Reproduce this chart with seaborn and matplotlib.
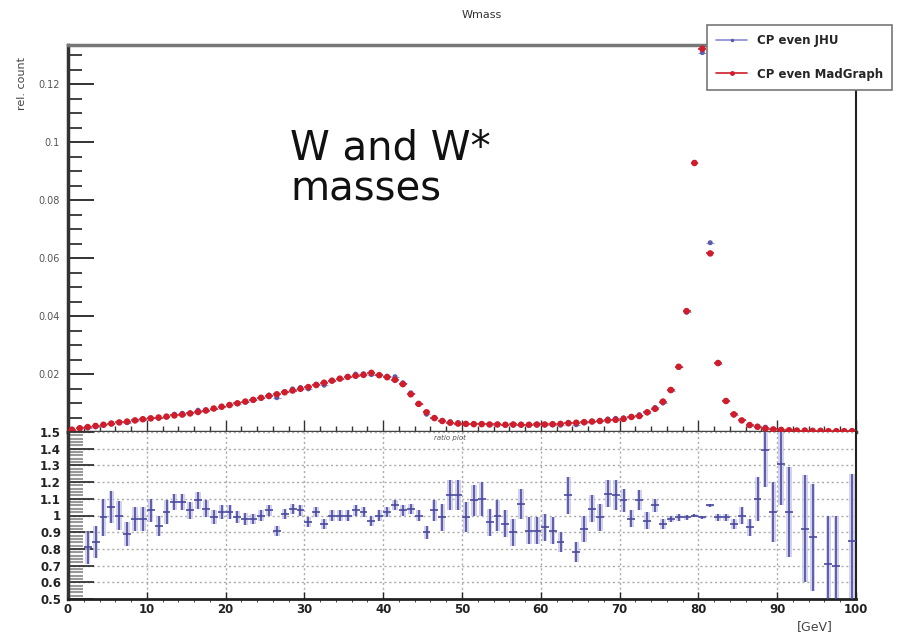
import numpy as np
import pandas as pd
import seaborn as sns
import matplotlib.pyplot as plt
from matplotlib.lines import Line2D
from matplotlib.ticker import MultipleLocator

# bin centres of the Wmass histogram, 1 GeV bins from 0 to 100
mass_bins = np.arange(100) + 0.5

# relative count, CP even MadGraph
madgraph = [
    0.0008, 0.0013, 0.0017, 0.0021, 0.0025, 0.0029, 0.0033, 0.0036, 0.0040, 0.0044,
    0.0047, 0.0050, 0.0053, 0.0057, 0.0060, 0.0064, 0.0069, 0.0074, 0.0081, 0.0087,
    0.0093, 0.0099, 0.0105, 0.0111, 0.0118, 0.0124, 0.0130, 0.0137, 0.0143, 0.0149,
    0.0155, 0.0162, 0.0170, 0.0177, 0.0184, 0.0190, 0.0194, 0.0197, 0.0204, 0.0196,
    0.0189, 0.0180, 0.0165, 0.0130, 0.0097, 0.0068, 0.0048, 0.0038, 0.0032, 0.0029,
    0.0028, 0.0027, 0.0027, 0.0026, 0.0026, 0.0025, 0.0026, 0.0025, 0.0025, 0.0026,
    0.0026, 0.0027, 0.0028, 0.0030, 0.0032, 0.0034, 0.0036, 0.0038, 0.0040, 0.0042,
    0.0045, 0.0052, 0.0055, 0.0068, 0.0080, 0.0105, 0.0145, 0.0225, 0.0417, 0.0928,
    0.1322, 0.0616, 0.0238, 0.0107, 0.0061, 0.0040, 0.0024, 0.0018, 0.0012, 0.0009,
    0.0007, 0.0006, 0.0005, 0.0005, 0.0004, 0.0004, 0.0003, 0.0003, 0.0003, 0.0003,
]

# ratio JHU / MadGraph (lower panel) and its error
nan = np.nan
ratio = [
    nan, nan, 0.81, 0.84, 0.99, 1.05, 1.00, 0.89, 0.98, 0.98,
    1.03, 0.94, 1.02, 1.08, 1.08, 1.03, 1.09, 1.04, 0.99, 1.02,
    1.02, 0.99, 0.98, 0.98, 1.00, 1.03, 0.91, 1.01, 1.04, 1.03,
    0.96, 1.02, 0.95, 1.00, 1.00, 1.00, 1.03, 1.02, 0.97, 1.00,
    1.02, 1.06, 1.03, 1.04, 1.00, 0.90, 1.03, 0.99, 1.12, 1.12,
    0.99, 1.09, 1.10, 0.96, 1.00, 0.95, 0.90, 1.07, 0.91, 0.91,
    0.93, 0.91, 0.84, 1.12, 0.78, 0.92, 1.04, 0.99, 1.13, 1.12,
    1.09, 0.98, 1.09, 0.97, 1.06, 0.95, 0.98, 0.99, 0.99, 1.00,
    0.99, 1.06, 0.99, 0.99, 0.95, 1.00, 0.93, 1.10, 1.39, 1.02,
    1.31, 1.02, nan, 0.92, 0.87, nan, 0.71, 0.70, nan, 0.85,
]
ratio_err = [
    0, 0, 0.10, 0.095, 0.11, 0.095, 0.085, 0.07, 0.07, 0.07,
    0.07, 0.06, 0.07, 0.05, 0.05, 0.05, 0.05, 0.05, 0.04, 0.04,
    0.04, 0.035, 0.035, 0.03, 0.03, 0.03, 0.03, 0.03, 0.03, 0.03,
    0.03, 0.03, 0.03, 0.03, 0.03, 0.03, 0.03, 0.03, 0.03, 0.03,
    0.03, 0.03, 0.03, 0.03, 0.035, 0.04, 0.06, 0.08, 0.09, 0.09,
    0.09, 0.09, 0.10, 0.08, 0.09, 0.08, 0.08, 0.09, 0.08, 0.08,
    0.08, 0.08, 0.06, 0.11, 0.06, 0.08, 0.08, 0.08, 0.08, 0.09,
    0.07, 0.05, 0.06, 0.05, 0.04, 0.03, 0.02, 0.02, 0.015, 0.01,
    0.01, 0.01, 0.02, 0.02, 0.03, 0.05, 0.05, 0.13, 0.22, 0.18,
    0.25, 0.27, 0, 0.32, 0.32, 0, 0.29, 0.30, 0, 0.40,
]

df = pd.DataFrame({"mass": mass_bins, "madgraph": madgraph,
                   "ratio": ratio, "err": ratio_err})
# JHU histogram follows from MadGraph times the ratio
df["jhu"] = np.where(df["ratio"].notna(), df["madgraph"] * df["ratio"], df["madgraph"])

sns.set_style("ticks")
plt.rcParams["font.family"] = ["DejaVu Sans"]

RED = "#cf1d2c"
BLUE = "#4a4a9e"
LIGHT = "#c4c4ea"

fig = plt.figure(figsize=(8.97, 6.37), dpi=100)
W, H = 897, 637
ax = fig.add_axes([68 / W, 1 - 432 / H, 788 / W, 387 / H])
ax_r = fig.add_axes([68 / W, 1 - 599 / H, 788 / W, 167 / H], sharex=ax)

# ---- upper panel: JHU underneath, MadGraph on top
ax.errorbar(df["mass"], df["jhu"], xerr=0.5, fmt="none", ecolor="#9a9ad4", lw=0.8)
sns.scatterplot(data=df, x="mass", y="jhu", color="#5c5cae", s=13, edgecolor="none",
                ax=ax, zorder=3, clip_on=False)
ax.errorbar(df["mass"], df["madgraph"], xerr=0.5, fmt="none", ecolor=RED, lw=1.1, zorder=4)
sns.scatterplot(data=df, x="mass", y="madgraph", color=RED, s=22, edgecolor="none",
                ax=ax, zorder=5, clip_on=False)
ax.set_xlim(0, 100)
ax.set_ylim(0, 0.1335)
ax.set_xlabel("")
ax.set_ylabel("")
ax.yaxis.set_minor_locator(MultipleLocator(0.005))
ax.xaxis.set_major_locator(MultipleLocator(10))
ax.xaxis.set_minor_locator(MultipleLocator(2))
ax.set_yticks([0.02, 0.04, 0.06, 0.08, 0.1, 0.12])
ax.set_yticklabels(["0.02", "0.04", "0.06", "0.08", "0.1", "0.12"])
ax.tick_params(axis="y", which="major", direction="in", length=19, width=1.3,
               color="#222", labelsize=7, labelcolor="#555", pad=6)
ax.tick_params(axis="y", which="minor", direction="in", length=10, width=1.3, color="#333")
ax.tick_params(axis="x", which="major", direction="in", length=9, width=1, color="#333",
               labelbottom=False)
ax.tick_params(axis="x", which="minor", direction="in", length=4, width=1, color="#333")
ax.spines["left"].set_linewidth(2.5)
ax.spines["left"].set_color("#333")
ax.spines["top"].set_linewidth(2.5)
ax.spines["top"].set_color("#777")
ax.spines["right"].set_linewidth(1.5)
ax.spines["right"].set_color("#222")
ax.spines["bottom"].set_linewidth(2.5)
ax.spines["bottom"].set_color("#444")

# ---- ratio panel
ok = df[df["ratio"].notna()]
ax_r.bar(ok["mass"], 2 * ok["err"], bottom=ok["ratio"] - ok["err"], width=0.7,
         color=LIGHT, alpha=0.75, edgecolor="none", zorder=2)
ax_r.errorbar(ok["mass"], ok["ratio"], yerr=ok["err"], xerr=0.5, fmt="none",
              ecolor=BLUE, lw=1.2, zorder=3)
ax_r.set_xlim(0, 100)
ax_r.set_ylim(0.5, 1.5)
ax_r.set_yticks(np.round(np.arange(0.5, 1.51, 0.1), 1))
ax_r.set_yticklabels(["0.5", "0.6", "0.7", "0.8", "0.9", "1", "1.1", "1.2", "1.3", "1.4", "1.5"])
ax_r.yaxis.set_minor_locator(MultipleLocator(0.02))
ax_r.set_xticks(np.arange(0, 101, 10))
ax_r.grid(True, which="major", color="#aaaaaa", linestyle=(0, (1.5, 2)), lw=1)
ax_r.tick_params(axis="y", which="major", direction="in", length=19, width=1.3,
                 color="#333", labelsize=8.5, labelcolor="#222", pad=5)
ax_r.tick_params(axis="y", which="minor", direction="in", length=11, width=1.5, color="#999")
ax_r.tick_params(axis="x", which="major", direction="in", length=5, width=1,
                 labelsize=8.5, labelcolor="#222", pad=3)
for lab in ax_r.get_xticklabels() + ax_r.get_yticklabels():
    lab.set_fontweight("bold")
ax_r.spines["left"].set_linewidth(2.5)
ax_r.spines["left"].set_color("#333")
ax_r.spines["bottom"].set_linewidth(2)
ax_r.spines["bottom"].set_color("#222")
ax_r.spines["right"].set_linewidth(1.5)
ax_r.spines["right"].set_color("#222")
ax_r.spines["top"].set_visible(False)
ax_r.text(48.5, 1.465, "ratio plot", fontsize=5, color="#555", ha="center", va="center",
          style="italic")

# ---- texts
fig.text(482 / W, 1 - 15 / H, "Wmass", ha="center", va="center", fontsize=8, color="#333")
fig.text(22 / W, 1 - 84 / H, "rel. count", ha="center", va="center", rotation=90,
         fontsize=8, color="#444")
fig.text(815 / W, 1 - 627 / H, "[GeV]", ha="center", va="center", fontsize=9, color="#444")
fig.text(290 / W, 1 - 128 / H, "W and W*\nmasses", ha="left", va="top", fontsize=29,
         linespacing=1.05, color="#111")

handles = [
    Line2D([0], [0], color="#8a8ad0", lw=1.2, marker="o", markersize=2.5,
           markerfacecolor="#5a5aa8", markeredgecolor="none"),
    Line2D([0], [0], color=RED, lw=1.2, marker="o", markersize=3.5,
           markeredgecolor="none"),
]
leg = fig.legend(handles, ["CP even JHU", "CP even MadGraph"], loc="upper left",
                 bbox_to_anchor=(707 / W, 1 - 25 / H), borderaxespad=0, frameon=True,
                 fancybox=False, edgecolor="#777", framealpha=1, handlelength=2.6,
                 handletextpad=0.8, borderpad=0.8, labelspacing=1.7,
                 prop={"size": 8.5, "weight": "bold"})
leg.get_frame().set_linewidth(1.2)

fig.savefig("out.png", dpi=100)
